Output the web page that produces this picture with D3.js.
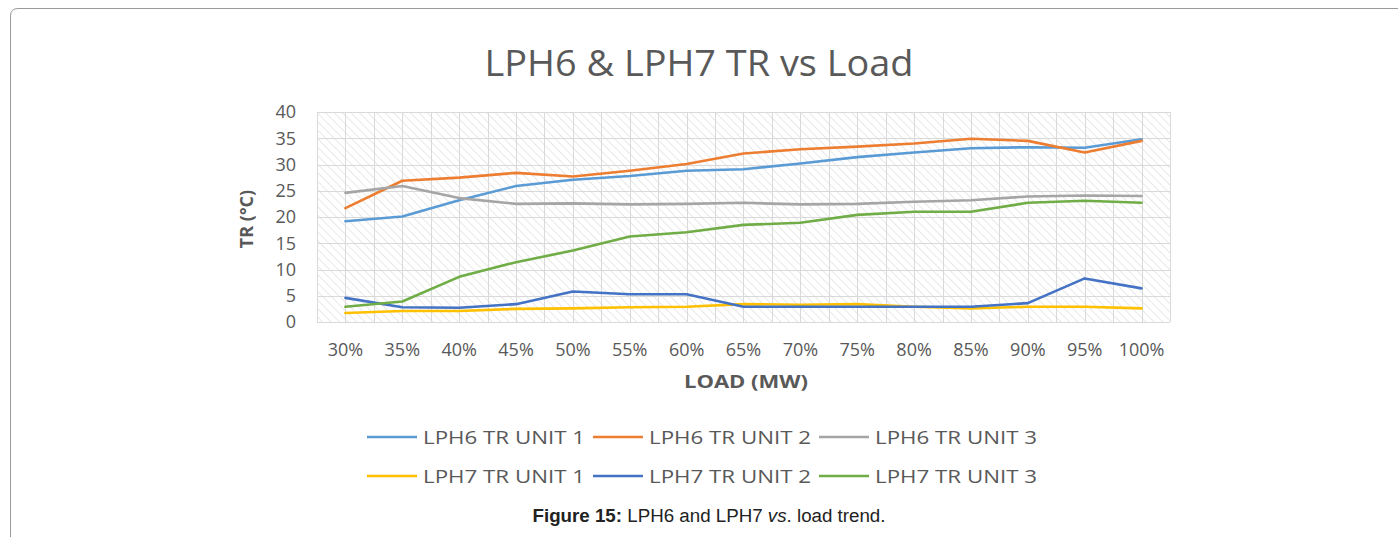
<!DOCTYPE html>
<html>
<head>
<meta charset="utf-8">
<script src="https://cdn.jsdelivr.net/npm/d3@7"></script>
<style>
  body { margin: 0; background: #fff; }
  svg { display: block; }
</style>
</head>
<body>
<div id="chart"></div>
<script>
// Chart data
const loads = ["30%", "35%", "40%", "45%", "50%", "55%", "60%", "65%", "70%", "75%", "80%", "85%", "90%", "95%", "100%"];
const yTicks = [0, 5, 10, 15, 20, 25, 30, 35, 40];

const lph6Unit1 = [19.2, 20.1, 23.2, 25.9, 27.1, 27.8, 28.8, 29.1, 30.2, 31.4, 32.3, 33.1, 33.3, 33.2, 34.8];
const lph6Unit2 = [21.7, 26.9, 27.5, 28.4, 27.7, 28.8, 30.1, 32.1, 32.9, 33.4, 34.0, 34.9, 34.5, 32.3, 34.5];
const lph6Unit3 = [24.6, 25.9, 23.6, 22.5, 22.6, 22.4, 22.5, 22.7, 22.4, 22.5, 22.9, 23.2, 23.9, 24.1, 24.0];
const lph7Unit1 = [1.7, 2.1, 2.1, 2.5, 2.6, 2.8, 2.9, 3.4, 3.3, 3.4, 2.9, 2.6, 2.9, 2.9, 2.6];
const lph7Unit2 = [4.6, 2.8, 2.7, 3.4, 5.8, 5.3, 5.3, 2.9, 2.9, 2.9, 2.9, 2.9, 3.6, 8.3, 6.4];
const lph7Unit3 = [2.9, 3.9, 8.6, 11.4, 13.6, 16.3, 17.1, 18.5, 18.9, 20.4, 21.0, 21.0, 22.7, 23.1, 22.7];

const seriesNames = ["LPH6 TR UNIT 1", "LPH6 TR UNIT 2", "LPH6 TR UNIT 3", "LPH7 TR UNIT 1", "LPH7 TR UNIT 2", "LPH7 TR UNIT 3"];
const seriesValues = [lph6Unit1, lph6Unit2, lph6Unit3, lph7Unit1, lph7Unit2, lph7Unit3];
const seriesColors = ["#5B9BD5", "#ED7D31", "#A5A5A5", "#FFC000", "#4472C4", "#70AD47"];

// Dimensions
const width = 1398;
const height = 537;
const plot = { left: 317, right: 1170, top: 112, bottom: 322 };
const textColor = "#595959";
const font = "'Open Sans', Lato, sans-serif";

const svg = d3.select("#chart")
    .append("svg")
    .attr("width", width)
    .attr("height", height);

// Hatch pattern for plot background (lines running top-left to bottom-right)
const defs = svg.append("defs");
const hatch = defs.append("pattern")
    .attr("id", "hatch")
    .attr("patternUnits", "userSpaceOnUse")
    .attr("width", 6)
    .attr("height", 6)
    .attr("patternTransform", "rotate(-45)");
hatch.append("line")
    .attr("x1", 0).attr("y1", 0)
    .attr("x2", 0).attr("y2", 6)
    .attr("stroke", "#d2d2d2")
    .attr("stroke-width", 1);

// Outer frame (figure box)
svg.append("path")
    .attr("d", "M10.5,537 L10.5,16 Q10.5,8.5 18,8.5 L1398,8.5")
    .attr("fill", "none")
    .attr("stroke", "#9a9a9a")
    .attr("stroke-width", 1);

// Scales
const x = d3.scaleBand().domain(loads).range([plot.left, plot.right]);
const y = d3.scaleLinear().domain([0, 40]).range([plot.bottom, plot.top]);

const g = svg.append("g");

g.append("rect")
    .attr("x", plot.left)
    .attr("y", plot.top)
    .attr("width", plot.right - plot.left)
    .attr("height", plot.bottom - plot.top)
    .attr("fill", "url(#hatch)");

// Horizontal gridlines
g.append("g")
    .selectAll("line")
    .data(yTicks)
    .join("line")
    .attr("x1", plot.left)
    .attr("x2", plot.right)
    .attr("y1", (d) => Math.round(y(d)) + 0.5)
    .attr("y2", (d) => Math.round(y(d)) + 0.5)
    .attr("stroke", "#d9d9d9")
    .attr("stroke-width", 1);

// Vertical gridlines at band edges and centers
const vLines = [];
loads.forEach((d) => {
    vLines.push(x(d));
    vLines.push(x(d) + x.bandwidth() / 2);
});
vLines.push(plot.right);
g.append("g")
    .selectAll("line")
    .data(vLines)
    .join("line")
    .attr("x1", (d) => Math.round(d) + 0.5)
    .attr("x2", (d) => Math.round(d) + 0.5)
    .attr("y1", plot.top)
    .attr("y2", plot.bottom)
    .attr("stroke", "#d9d9d9")
    .attr("stroke-width", 1);

// Y axis labels
const yAxis = g.append("g")
    .attr("transform", `translate(${plot.left - 21}, 0)`)
    .call(d3.axisLeft(y).tickValues(yTicks).tickSize(0).tickPadding(0));
yAxis.select(".domain").remove();
yAxis.selectAll("text")
    .attr("fill", textColor)
    .style("font-family", font)
    .style("font-size", "18px");

// X axis labels
const xAxis = g.append("g")
    .attr("transform", `translate(0, ${plot.bottom + 21})`)
    .call(d3.axisBottom(x).tickSize(0).tickPadding(0));
xAxis.select(".domain").remove();
xAxis.selectAll("text")
    .attr("fill", textColor)
    .style("font-family", font)
    .style("font-size", "18px");

// Lines
const line = d3.line()
    .x((d, i) => x(loads[i]) + x.bandwidth() / 2)
    .y((d) => y(d));

g.append("g")
    .selectAll("path")
    .data(seriesValues)
    .join("path")
    .attr("d", line)
    .attr("fill", "none")
    .attr("stroke", (d, i) => seriesColors[i])
    .attr("stroke-width", 2.6)
    .attr("stroke-linejoin", "round")
    .attr("stroke-linecap", "round");

// Titles
svg.append("text")
    .attr("x", 699)
    .attr("y", 76)
    .attr("text-anchor", "middle")
    .attr("fill", textColor)
    .attr("textLength", 429)
    .attr("lengthAdjust", "spacingAndGlyphs")
    .style("font-family", font)
    .style("font-size", "36px")
    .text("LPH6 & LPH7 TR vs Load");

svg.append("text")
    .attr("x", 746)
    .attr("y", 388)
    .attr("text-anchor", "middle")
    .attr("fill", textColor)
    .attr("textLength", 124)
    .attr("lengthAdjust", "spacingAndGlyphs")
    .style("font-family", font)
    .style("font-size", "18px")
    .style("font-weight", "bold")
    .text("LOAD (MW)");

svg.append("text")
    .attr("transform", `translate(253, ${(plot.top + plot.bottom) / 2 + 2}) rotate(-90)`)
    .attr("text-anchor", "middle")
    .attr("fill", textColor)
    .style("font-family", font)
    .style("font-size", "18px")
    .style("font-weight", "bold")
    .text("TR (°C)");

// Legend
const legend = svg.append("g")
    .selectAll("g")
    .data(seriesNames)
    .join("g")
    .attr("transform", (d, i) => `translate(${367 + (i % 3) * 226}, ${437 + Math.floor(i / 3) * 39})`);

legend.append("line")
    .attr("x1", 0)
    .attr("x2", 50)
    .attr("stroke", (d, i) => seriesColors[i])
    .attr("stroke-width", 2.6);

legend.append("text")
    .attr("x", 56)
    .attr("y", 7)
    .attr("fill", textColor)
    .attr("textLength", 162)
    .attr("lengthAdjust", "spacingAndGlyphs")
    .style("font-family", font)
    .style("font-size", "19px")
    .text((d) => d);

// Figure caption
const caption = svg.append("text")
    .attr("x", 709)
    .attr("y", 522)
    .attr("text-anchor", "middle")
    .attr("fill", "#222")
    .attr("textLength", 353)
    .attr("lengthAdjust", "spacingAndGlyphs")
    .style("font-family", "'Liberation Sans', Arial, sans-serif")
    .style("font-size", "18px");
caption.append("tspan").style("font-weight", "bold").text("Figure 15:");
caption.append("tspan").text(" LPH6 and LPH7 ");
caption.append("tspan").style("font-style", "italic").text("vs");
caption.append("tspan").text(". load trend.");
</script>
</body>
</html>
